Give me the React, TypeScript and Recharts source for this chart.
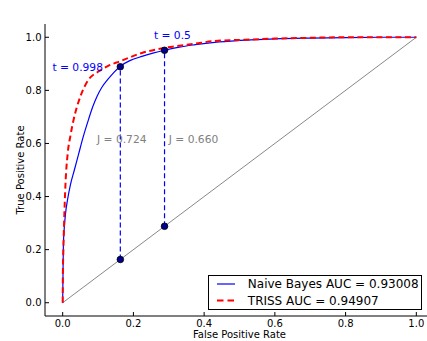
import React from 'react';
import { ComposedChart, Line, Scatter, XAxis, YAxis, Customized } from 'recharts';

const FONT = '"DejaVu Sans", Verdana, sans-serif';

// Naive Bayes ROC curve
const nbFpr = [0, 0.001, 0.002, 0.005, 0.008, 0.014, 0.022, 0.033, 0.045, 0.058, 0.073, 0.085, 0.097, 0.11, 0.127, 0.145, 0.163, 0.19, 0.224, 0.255, 0.288, 0.33, 0.375, 0.43, 0.5, 0.6, 0.7, 0.8, 0.9, 1.0];
const nbTpr = [0, 0.12, 0.22, 0.29, 0.335, 0.39, 0.445, 0.5, 0.56, 0.625, 0.69, 0.738, 0.777, 0.81, 0.84, 0.868, 0.891, 0.912, 0.928, 0.94, 0.951, 0.963, 0.972, 0.981, 0.988, 0.994, 0.997, 0.999, 1.0, 1.0];

// TRISS ROC curve
const trFpr = [0, 0.0005, 0.002, 0.004, 0.008, 0.014, 0.022, 0.031, 0.05, 0.073, 0.1, 0.13, 0.163, 0.224, 0.288, 0.375, 0.43, 0.5, 0.6, 0.7, 0.8, 1.0];
const trTpr = [0, 0.1, 0.2, 0.3, 0.45, 0.56, 0.63, 0.69, 0.777, 0.84, 0.87, 0.893, 0.91, 0.941, 0.96, 0.976, 0.986, 0.99, 0.995, 0.998, 1.0, 1.0];

// chance diagonal
const diagX = [0, 1];

// cut points
const cutFpr = [0.163, 0.288];
const cutTpr = [0.889, 0.951];
const tLabels = ['t = 0.998', 't = 0.5'];
const tLabelX = [-0.029, 0.258];
const tLabelY = [0.872, 0.993];
const jLabels = ['J = 0.724', 'J = 0.660'];
const jLabelX = [0.097, 0.3];
const jLabelY = [0.6, 0.6];

const xTicks = [0, 0.2, 0.4, 0.6, 0.8, 1.0];
const yTicks = [0, 0.2, 0.4, 0.6, 0.8, 1.0];

const seriesNames = ['Naive Bayes AUC = 0.93008', 'TRISS AUC = 0.94907'];
const seriesColors = ['#0000ff', '#ff0000'];

const title = 'Receiver Operating Characteristic';
const xLabel = 'False Positive Rate';
const yLabel = 'True Positive Rate';

const nbData = nbFpr.map((x, i) => ({ x, y: nbTpr[i] }));
const trData = trFpr.map((x, i) => ({ x, y: trTpr[i] }));
const diagData = diagX.map((x) => ({ x, y: x }));
const vlines = cutFpr.map((f, i) => [{ x: f, y: f }, { x: f, y: cutTpr[i] }]);
const dotData = cutFpr.flatMap((f, i) => [{ x: f, y: cutTpr[i] }, { x: f, y: f }]);
const tData = tLabels.map((label, i) => ({ x: tLabelX[i], y: tLabelY[i], label }));
const jData = jLabels.map((label, i) => ({ x: jLabelX[i], y: jLabelY[i], label }));

const fmt = (v: number) => v.toFixed(1);

const BottomTick = (p: any) => (
  <g>
    <line x1={p.x} y1={p.y} x2={p.x} y2={p.y - 4} stroke="#000" strokeWidth={1} />
    <text x={p.x} y={p.y + 10.8} textAnchor="middle" fontFamily={FONT} fontSize={10} fill="#000">
      {fmt(p.payload.value)}
    </text>
  </g>
);
const TopTick = (p: any) => (
  <line x1={p.x} y1={p.y} x2={p.x} y2={p.y + 4} stroke="#000" strokeWidth={1} />
);
const LeftTick = (p: any) => (
  <g>
    <line x1={p.x} y1={p.y} x2={p.x + 4} y2={p.y} stroke="#000" strokeWidth={1} />
    <text x={p.x - 3.5} y={p.y + 3.6} textAnchor="end" fontFamily={FONT} fontSize={10} fill="#000">
      {fmt(p.payload.value)}
    </text>
  </g>
);

const Legend = () => (
  <g>
    <rect x={208.5} y={275.5} width={213} height={34} fill="#fff" stroke="#000" strokeWidth={1} />
    <line x1={217} y1={284} x2={235} y2={284} stroke={seriesColors[0]} strokeWidth={1.2} />
    <line x1={217} y1={300.5} x2={235} y2={300.5} stroke={seriesColors[1]} strokeWidth={2} strokeDasharray="6.5 4" />
    <text x={247.8} y={288.3} fontFamily={FONT} fontSize={12} fill="#000">{seriesNames[0]}</text>
    <text x={247.8} y={305} fontFamily={FONT} fontSize={12} fill="#000">{seriesNames[1]}</text>
  </g>
);

export default function App() {
  return (
    <div style={{ position: 'fixed', left: 0, top: 0, width: 427, height: 341, overflow: 'hidden', background: '#fff' }}>
      <ComposedChart width={440} height={341} margin={{ top: 24, right: 6, bottom: 0, left: 5 }}>
        <XAxis
          xAxisId="0"
          dataKey="x"
          type="number"
          domain={[-0.05, 1.05]}
          allowDataOverflow
          ticks={xTicks}
          interval={0}
          height={25}
          tickSize={0}
          tickMargin={0}
          tickLine={false}
          axisLine={{ stroke: '#000', strokeWidth: 1 }}
          tick={BottomTick}
          label={(props: any) => {
            const vb = props.viewBox || { x: 45, y: 316, width: 389 };
            return (
              <text x={vb.x + vb.width / 2} y={vb.y + 21.5} textAnchor="middle" fontFamily={FONT} fontSize={10} fill="#000">
                {xLabel}
              </text>
            );
          }}
        />
        <XAxis
          xAxisId="top"
          orientation="top"
          dataKey="x"
          type="number"
          domain={[-0.05, 1.05]}
          allowDataOverflow
          ticks={xTicks}
          interval={0}
          height={0}
          tickSize={0}
          tickMargin={0}
          tickLine={false}
          axisLine={{ stroke: '#000', strokeWidth: 1 }}
          tick={TopTick}
          label={(props: any) => {
            const vb = props.viewBox || { x: 45, y: 24, width: 389 };
            return (
              <text x={vb.x + vb.width / 2} y={19} textAnchor="middle" fontFamily={FONT} fontSize={12} fill="#000">
                {title}
              </text>
            );
          }}
        />
        <YAxis
          yAxisId="0"
          type="number"
          domain={[-0.05, 1.05]}
          allowDataOverflow
          ticks={yTicks}
          interval={0}
          width={40}
          tickSize={0}
          tickMargin={0}
          tickLine={false}
          axisLine={{ stroke: '#000', strokeWidth: 1 }}
          tick={LeftTick}
          label={(props: any) => {
            const vb = props.viewBox || { x: 5, y: 24, height: 292 };
            const cx = 24;
            const cy = vb.y + vb.height / 2;
            return (
              <text x={cx} y={cy} transform={`rotate(-90 ${cx} ${cy})`} textAnchor="middle" fontFamily={FONT} fontSize={10} fill="#000">
                {yLabel}
              </text>
            );
          }}
        />
        <Line data={diagData} dataKey="y" type="linear" stroke="#888" strokeWidth={1} dot={false} isAnimationActive={false} />
        <Line data={nbData} dataKey="y" type="monotone" stroke={seriesColors[0]} strokeWidth={1.2} dot={false} isAnimationActive={false} />
        <Line data={trData} dataKey="y" type="monotone" stroke={seriesColors[1]} strokeWidth={2} strokeDasharray="6 3.5" dot={false} isAnimationActive={false} />
        {vlines.map((d, i) => (
          <Line key={`v${i}`} data={d} dataKey="y" type="linear" stroke="#0000ff" strokeWidth={1.2} strokeDasharray="5 3" dot={false} isAnimationActive={false} />
        ))}
        <Scatter
          data={dotData}
          dataKey="y"
          isAnimationActive={false}
          shape={(p: any) => <circle cx={p.cx} cy={p.cy} r={3.3} fill="#00008b" stroke="#000" strokeWidth={0.8} />}
        />
        <Scatter
          data={tData}
          dataKey="y"
          isAnimationActive={false}
          shape={(p: any) => (
            <text x={p.cx} y={p.cy} fontFamily={FONT} fontSize={10.7} fill="#0000ff">{p.payload.label}</text>
          )}
        />
        <Scatter
          data={jData}
          dataKey="y"
          isAnimationActive={false}
          shape={(p: any) => (
            <text x={p.cx} y={p.cy} fontFamily={FONT} fontSize={10.7} fill="#808080">{p.payload.label}</text>
          )}
        />
        <Customized component={<Legend />} />
      </ComposedChart>
    </div>
  );
}
